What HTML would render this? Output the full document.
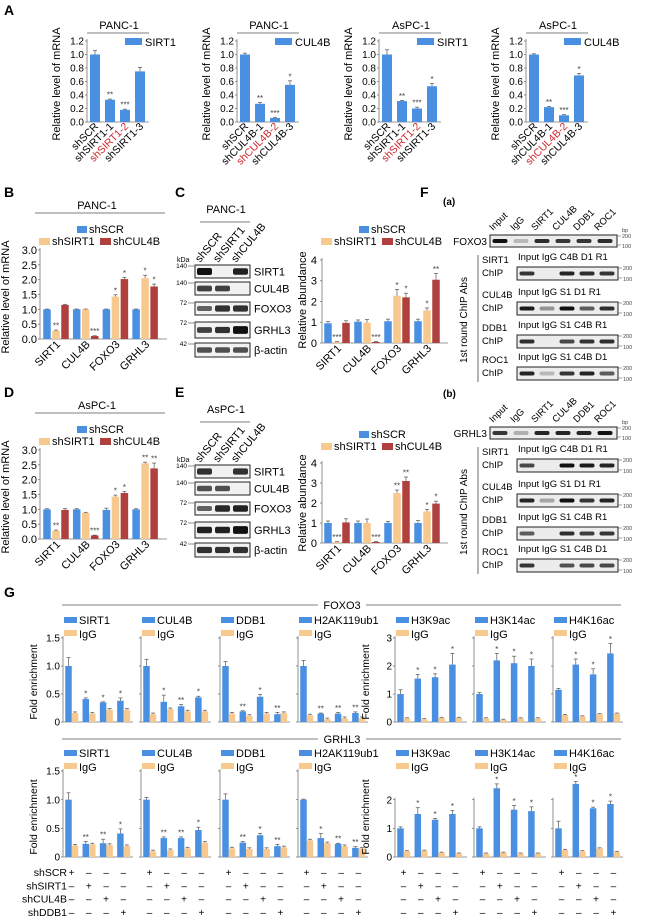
<!DOCTYPE html>
<html><head><meta charset="utf-8">
<style>
html,body{margin:0;padding:0;background:#fff;}
svg{display:block;font-family:"Liberation Sans",Arial,sans-serif;}
</style></head>
<body>
<svg id="fig" width="650" height="918" viewBox="0 0 650 918" xmlns="http://www.w3.org/2000/svg">
<rect x="0" y="0" width="650" height="918" fill="#fff"/>
</svg>
<script>
// ---------- DATA ----------
const aCats = [["shSCR","shSIRT1-1","shSIRT1-2","shSIRT1-3"],["shSCR","shCUL4B-1","shCUL4B-2","shCUL4B-3"],["shSCR","shSIRT1-1","shSIRT1-2","shSIRT1-3"],["shSCR","shCUL4B-1","shCUL4B-2","shCUL4B-3"]];
const aTitles = ["PANC-1","PANC-1","AsPC-1","AsPC-1"];
const aLegend = ["SIRT1","CUL4B","SIRT1","CUL4B"];
const aValues = [[1.0,0.33,0.18,0.75],[1.0,0.27,0.06,0.55],[1.0,0.31,0.2,0.53],[1.0,0.22,0.1,0.69]];
const aErrors = [[0.06,0.01,0.01,0.06],[0.02,0.02,0.01,0.06],[0.07,0.01,0.02,0.04],[0.01,0.01,0.01,0.03]];
const aStars = [["","**","***",""],["","**","***","*"],["","**","***","*"],["","**","***","*"]];
const aTicks = ["0.0","0.2","0.4","0.6","0.8","1.0","1.2"];

const geneCats = ["SIRT1","CUL4B","FOXO3","GRHL3"];
const seriesNames = ["shSCR","shSIRT1","shCUL4B"];
const bScr = [1.0,1.0,1.0,1.0];
const bSirt = [0.28,1.0,1.43,2.05];
const bCul = [1.15,0.1,2.02,1.77];
const bErr = [[0.01,0.01,0.01,0.01],[0.02,0.01,0.06,0.1],[0.02,0.01,0.06,0.08]];
const bStars = [["","","",""],["**","","*","*"],["","***","*","*"]];
const dScr = [1.0,1.0,0.98,1.0];
const dSirt = [0.28,0.88,1.43,2.55];
const dCul = [0.98,0.12,1.55,2.38];
const dErr = [[0.02,0.02,0.06,0.02],[0.02,0.02,0.05,0.04],[0.05,0.01,0.05,0.18]];
const dStars = [["","","",""],["**","","*","**"],["","***","*","**"]];
const mTicks = ["0.0","0.5","1.0","1.5","2.0","2.5","3.0"];
const cScr = [0.95,1.03,1.05,1.05];
const cSirt = [0.05,0.98,2.28,1.57];
const cCul = [0.97,0.05,2.2,3.05];
const cErr = [[0.08,0.08,0.1,0.1],[0.02,0.15,0.3,0.12],[0.1,0.02,0.2,0.3]];
const cStars = [["","","",""],["***","","*","*"],["","***","*","**"]];
const eScr = [1.0,1.0,1.0,1.0];
const eSirt = [0.05,1.0,2.5,1.58];
const eCul = [1.03,0.05,3.1,1.97];
const eErr = [[0.1,0.1,0.08,0.12],[0.02,0.2,0.15,0.1],[0.18,0.02,0.2,0.12]];
const eStars = [["","","",""],["***","","**","*"],["","***","**","*"]];
const abTicks = ["0","1","2","3","4"];

const gNames = ["SIRT1","CUL4B","DDB1","H2AK119ub1","H3K9ac","H3K14ac","H4K16ac"];
const g1Blue = [[1.0,0.41,0.35,0.38],[1.0,0.36,0.28,0.44],[1.0,0.19,0.45,0.14],[1.0,0.15,0.15,0.16],[1.0,1.55,1.6,2.05],[1.0,2.2,2.1,2.0],[1.15,2.05,1.7,2.45]];
const g1IgG = [[0.16,0.15,0.22,0.22],[0.14,0.23,0.19,0.19],[0.15,0.11,0.15,0.16],[0.12,0.05,0.07,0.07],[0.13,0.1,0.15,0.15],[0.13,0.08,0.13,0.13],[0.25,0.2,0.28,0.3]];
const g1Err = [[0.15,0.02,0.01,0.05],[0.12,0.12,0.03,0.02],[0.08,0.01,0.04,0.03],[0.1,0.01,0.02,0.02],[0.15,0.15,0.12,0.4],[0.05,0.25,0.25,0.25],[0.05,0.2,0.2,0.35]];
const g1Stars = [["","*","*","*"],["","*","**","*"],["","**","*","**"],["","**","**","**"],["","*","*","*"],["","*","*","*"],["","*","*","*"]];
const g2Blue = [[1.0,0.23,0.24,0.41],[1.0,0.33,0.33,0.47],[1.0,0.25,0.38,0.19],[1.0,0.33,0.23,0.16],[1.0,1.5,1.3,1.5],[1.0,2.4,1.65,1.6],[1.0,2.55,1.7,1.85]];
const g2IgG = [[0.2,0.22,0.21,0.19],[0.1,0.12,0.15,0.25],[0.15,0.14,0.14,0.17],[0.29,0.24,0.19,0.15],[0.2,0.22,0.15,0.12],[0.12,0.15,0.12,0.12],[0.25,0.2,0.3,0.18]];
const g2Err = [[0.12,0.04,0.07,0.08],[0.04,0.02,0.02,0.05],[0.1,0.02,0.03,0.03],[0.01,0.08,0.01,0.02],[0.05,0.22,0.05,0.12],[0.05,0.15,0.15,0.15],[0.25,0.08,0.04,0.1]];
const g2Stars = [["","**","**","*"],["","**","**","*"],["","**","*","**"],["","*","**","**"],["","*","*","*"],["","*","*","*"],["","*","*","*"]];
const gLeftTicks = ["0","0.5","1.0","1.5"];
const gRightTicks1 = ["0","1","2","3"];
const gRightTicks2 = ["0","1","2"];
const gRowLabels = ["shSCR","shSIRT1","shCUL4B","shDDB1"];

const blotLabels = ["SIRT1","CUL4B","FOXO3","GRHL3","β-actin"];
const blotKda = ["140","140","72","72","42"];
const cBands = [[1,0,0.9],[0.7,0.7,0],[0.5,0.8,0.8],[0.7,0.8,1.2],[0.6,0.6,0.6]];
const eBands = [[0.8,0,0.8],[0.6,0.6,0],[0.5,0.85,0.9],[0.9,0.9,1.2],[0.8,0.8,0.8]];

const fTopLanes = ["Input","IgG","SIRT1","CUL4B","DDB1","ROC1"];
const fSubNames = ["SIRT1","CUL4B","DDB1","ROC1"];
const fSubLanes = [["Input","IgG","C4B","D1","R1"],["Input","IgG","S1","D1","R1"],["Input","IgG","S1","C4B","R1"],["Input","IgG","S1","C4B","D1"]];
const faTop = [1,0.1,0.85,0.8,0.8,0.85];
const faSub = [[0.8,0,0.9,0.85,0.8],[0.95,0.3,1,0.6,0.85],[0.85,0,0.7,0.8,0.85],[0.9,0.1,0.8,0.9,0.6]];
const fbTop = [0.8,0.15,0.9,0.9,0.9,1];
const fbSub = [[0.7,0,1,0.95,0.9],[0.9,0.2,1,0.8,0.9],[0.6,0,0.85,0.75,0.8],[0.8,0,0.65,0.7,0.7]];

// ---------- HELPERS ----------
const NS = "http://www.w3.org/2000/svg";
const svg = document.getElementById("fig");
const BLUE = "#4a90e2", ORANGE = "#f8c98f", RED = "#b0403e";
function mk(tag, attrs, parent){
  const e = document.createElementNS(NS, tag);
  for (const k in attrs) e.setAttribute(k, attrs[k]);
  (parent || svg).appendChild(e);
  return e;
}
function txt(x, y, s, size, anchor, extra){
  const t = mk("text", Object.assign({x:x, y:y, "font-size":size, "text-anchor":anchor||"start", fill:"#000"}, extra||{}));
  t.textContent = s;
  
  
  return t;
}
function line(x1,y1,x2,y2,w,col){
  const l = mk("line",{x1:x1,y1:y1,x2:x2,y2:y2,stroke:col||"#333","stroke-width":w||0.8});
  
  
  return l;
}
function scaleY(zero, top, max){ return v => zero - (v/max)*(zero-top); }
function bar(cx, w, v, err, ys, color, star){
  const y = ys(v), z = ys(0);
  const r = mk("rect",{x:cx-w/2, y:Math.min(y,z), width:w, height:Math.max(Math.abs(z-y),0.5), fill:color});
  
  
  const eTop = ys(v+err);
  line(cx, y, cx, eTop, 0.7, "#555");
  line(cx-2, eTop, cx+2, eTop, 0.7, "#555");
  if (star) {
    const s = txt(cx, eTop-1.5, star, 8, "middle", {fill:"#444"});
    
  }
}
function yAxis(x, zero, top, ticks, size, showLabels, labelX){
  line(x, zero, x, top-2, 0.8, "#777");
  ticks.forEach((t,i)=>{
    const y = zero - i*(zero-top)/(ticks.length-1);
    line(x-2, y, x, y, 0.8, "#777");
    if (showLabels) txt(labelX===undefined ? x-3 : labelX, y+size*0.36, t, size, "end");
  });
}
function legendSq(x, y, w, h, color, name){
  const r = mk("rect",{x:x,y:y,width:w,height:h,fill:color});
  
  
}

// ---------- PANEL LETTERS ----------
[["A",4,15],["B",4,197],["C",175,197],["D",4,397],["E",175,397],["F",420,197],["G",4,597]].forEach(p=>{
  const t = txt(p[1], p[2], p[0], 14, "start", {"font-weight":"bold"});
  
});

// ---------- PANEL A ----------
const aAxisX = [87,237,379,526];
aAxisX.forEach((ax, c)=>{
  const ys = scaleY(122, 41, 1.2);
  yAxis(ax, 122, 41, aTicks, 10, true);
  line(ax, 122, ax+62, 122, 0.8, "#777");
  line(ax, 33, ax+62, 33, 0.8, "#555");
  txt(ax+32, 29, aTitles[c], 11, "middle");
  legendSq(ax+38, 38, 17, 7, BLUE, "legend-swatch");
  txt(ax+58, 46, aLegend[c], 11, "start");
  txt(0,0,"Relative level of mRNA", 11, "middle", {transform:`translate(${ax-27},84) rotate(-90)`});
  aValues[c].forEach((v,i)=>{
    const cx = ax+8+i*15;
    bar(cx, 10, v, aErrors[c][i], ys, BLUE, aStars[c][i]);
    txt(0,0,aCats[c][i], 10.5, "end", {transform:`translate(${cx+4},127) rotate(-45)`, fill: i===2?"#d0262b":"#000"});
  });
});

// ---------- PANELS B / D / C / E (grouped) ----------
function grouped(ax, zero, top, max, ticks, series, errs, stars, title, legendY, ylabel, ylabelX, ylabelY, tickX, first, spacing, plotW){
  const ys = scaleY(zero, top, max);
  yAxis(ax, zero, top, ticks, 11, true, tickX);
  line(ax, zero, ax+plotW, zero, 0.8, "#777");
  if (title){
    line(ax-5, legendY-20, ax+125, legendY-20, 0.8, "#555");
    txt(ax+57, legendY-24, title, 11, "middle");
  }
  legendSq(ax+37, legendY-7, 10, 7, BLUE, "legend-swatch");
  txt(ax+49, legendY, "shSCR", 11, "start");
  legendSq(ax-1, legendY+5, 11, 7, ORANGE, "legend-swatch");
  txt(ax+12, legendY+12, "shSIRT1", 11, "start");
  legendSq(ax+60, legendY+5, 11, 7, RED, "legend-swatch");
  txt(ax+73, legendY+12, "shCUL4B", 11, "start");
  txt(0,0,ylabel, 11, "middle", {transform:`translate(${ylabelX},${ylabelY}) rotate(-90)`});
  const cols = [BLUE, ORANGE, RED];
  geneCats.forEach((g,i)=>{
    const gc = ax+first+i*spacing;
    series.forEach((s,j)=>{
      bar(gc+(j-1)*9, 7.5, s[i], errs[j][i], ys, cols[j], stars[j][i]);
    });
    txt(0,0,g, 11, "end", {transform:`translate(${gc+5},${zero+6}) rotate(-45)`});
  });
}
grouped(40, 339, 250, 3, mTicks, [bScr,bSirt,bCul], bErr, bStars, "PANC-1", 233, "Relative level of mRNA", 9, 297, 37, 16, 29.7, 127);
grouped(40, 539, 450, 3, mTicks, [dScr,dSirt,dCul], dErr, dStars, "AsPC-1", 433, "Relative level of mRNA", 9, 497, 37, 16, 29.7, 127);
grouped(322, 343, 260, 4, abTicks, [cScr,cSirt,cCul], cErr, cStars, null, 233, "Relative abundance", 306, 300, 317, 15, 30, 126);
grouped(322, 543, 463, 4, abTicks, [eScr,eSirt,eCul], eErr, eStars, null, 438, "Relative abundance", 306, 503, 317, 15, 30, 126);

// ---------- WESTERN BLOTS C / E ----------
function blot(dy, title, bands){
  line(200, 222+dy, 250, 222+dy, 0.8, "#555");
  txt(226, 213+dy, title, 11, "middle");
  ["shSCR","shSIRT1","shCUL4B"].forEach((l,i)=>{
    txt(0,0,l, 11, "start", {transform:`translate(${200+i*18},${263+dy}) rotate(-50)`});
  });
  txt(177, 262+dy, "kDa", 7, "start");
  const rows = [[265,13],[282,13],[302,13],[322,16],[343,14]];
  rows.forEach((r,k)=>{
    const y = r[0]+dy;
    const box = mk("rect",{x:195,y:y,width:55,height:r[1],fill:"#f2f2f2",stroke:"#222","stroke-width":1});
    
    
    bands[k].forEach((b,i)=>{
      if (b<=0) return;
      const h = Math.min(r[1]-3, 3+b*4);
      const bd = mk("rect",{x:197+i*18,y:y+r[1]/2-h/2,width:15,height:h,rx:2,fill:"#111","fill-opacity":Math.min(1,0.3+b*0.7)});
      
      
    });
    txt(254, y+r[1]/2+4, blotLabels[k], 11, "start");
    txt(187, y+3, blotKda[k], 6.5, "end");
    line(188, y+1, 194, y+1, 0.6, "#444");
  });
}
blot(0, "PANC-1", cBands);
blot(200, "AsPC-1", eBands);

// ---------- PANEL F ----------
function gelBox(x, y, w, h, lanes, xs, bw){
  const box = mk("rect",{x:x,y:y,width:w,height:h,fill:"#ececec",stroke:"#222","stroke-width":1});
  
  
  lanes.forEach((b,i)=>{
    if (b<=0.05) return;
    const bd = mk("rect",{x:xs[i]-bw/2,y:y+h/2-2,width:bw,height:4,rx:2,fill:"#111","fill-opacity":Math.min(1,0.15+b*0.85)});
    
    
  });
  txt(x+w+5, y+3, "200", 5.5, "start", {fill:"#444"});
  txt(x+w+5, y+h+1, "100", 5.5, "start", {fill:"#444"});
  line(x+w, y+1, x+w+4, y+1, 0.5, "#444");
  line(x+w, y+h-2, x+w+4, y+h-2, 0.5, "#444");
}
function panelF(dy, tag, gene, top, subs){
  txt(443, 205+dy, tag, 10, "start", {"font-weight":"bold"});
  const topX = [500,521,542,563,584,605];
  fTopLanes.forEach((l,i)=>{
    txt(0,0,l, 9.5, "start", {transform:`translate(${topX[i]-7},${231+dy}) rotate(-45)`});
  });
  txt(622, 232+dy, "bp", 5.5, "start", {fill:"#444"});
  gelBox(490, 235+dy, 127, 12, top, topX, 15);
  txt(487, 245+dy, gene, 10, "end");
  const subX = [527,547,567,587,607];
  const hdrY = [260,295,328,360];
  subs.forEach((s,k)=>{
    const hy = hdrY[k]+dy;
    txt(518, hy, fSubLanes[k].join(" "), 9.5, "start");
    gelBox(517, hy+7, 101, 13, s, subX, 15);
    txt(482, hy+3, fSubNames[k], 9.5, "start");
    txt(482, hy+16, "ChIP", 9.5, "start");
  });
  line(478, 255+dy, 478, 382+dy, 0.8, "#444");
  txt(0,0,"1st round ChIP Abs", 10, "middle", {transform:`translate(467,${320+dy}) rotate(-90)`});
}
panelF(0, "(a)", "FOXO3", faTop, faSub);
panelF(192, "(b)", "GRHL3", fbTop, fbSub);

// ---------- PANEL G ----------
const gAxisX = [63,141,220,298,395,474,553];
const gAxisW = [70,70,70,70,72,72,70];
function gRow(zero, top, lineY, gene, blue, igg, errs, stars, rightTicks){
  line(62, lineY, 621, lineY, 0.8, "#555");
  const bg = mk("rect",{x:318,y:lineY-7,width:48,height:13,fill:"#fff"});
  
  
  txt(342, lineY+4, gene, 11, "middle");
  gAxisX.forEach((ax,c)=>{
    const left = c<4;
    const max = left ? 1.5 : 3;
    const ticks = left ? gLeftTicks : rightTicks;
    const topY = left ? top : zero - (ticks.length-1)*(zero-top)/3;
    const ys = scaleY(zero, top, max);
    yAxis(ax, zero, topY, ticks, 10, c===0 || c===4);
    line(ax, zero, ax+gAxisW[c], zero, 0.8, "#777");
    legendSq(ax+1, top-21, 13, 6, BLUE, "legend-swatch");
    txt(ax+16, top-14, gNames[c], 11, "start");
    legendSq(ax+1, top-8, 13, 6, ORANGE, "legend-swatch");
    txt(ax+16, top, "IgG", 11, "start");
    if (c===0 || c===4) txt(0,0,"Fold enrichment", 10.5, "middle", {transform:`translate(${ax-26},${zero-40}) rotate(-90)`});
    blue[c].forEach((v,i)=>{
      const cx = ax+5.5+i*17.3;
      bar(cx, 6.5, v, errs[c][i], ys, BLUE, stars[c][i]);
      bar(cx+6.5, 6.5, igg[c][i], 0.02, ys, ORANGE, "");
    });
  });
}
gRow(722, 638, 605, "FOXO3", g1Blue, g1IgG, g1Err, g1Stars, gRightTicks1);
gRow(857, 771, 739, "GRHL3", g2Blue, g2IgG, g2Err, g2Stars, gRightTicks2);

// sign matrix
gRowLabels.forEach((l,r)=>{
  const y = 876 + r*13.3;
  txt(67, y, l, 10.5, "end");
  gAxisX.forEach(ax=>{
    for (let i=0;i<4;i++){
      txt(ax+8.5+i*17.3, y, i===r?"+":"–", 10, "middle");
    }
  });
});
</script>
</body></html>
